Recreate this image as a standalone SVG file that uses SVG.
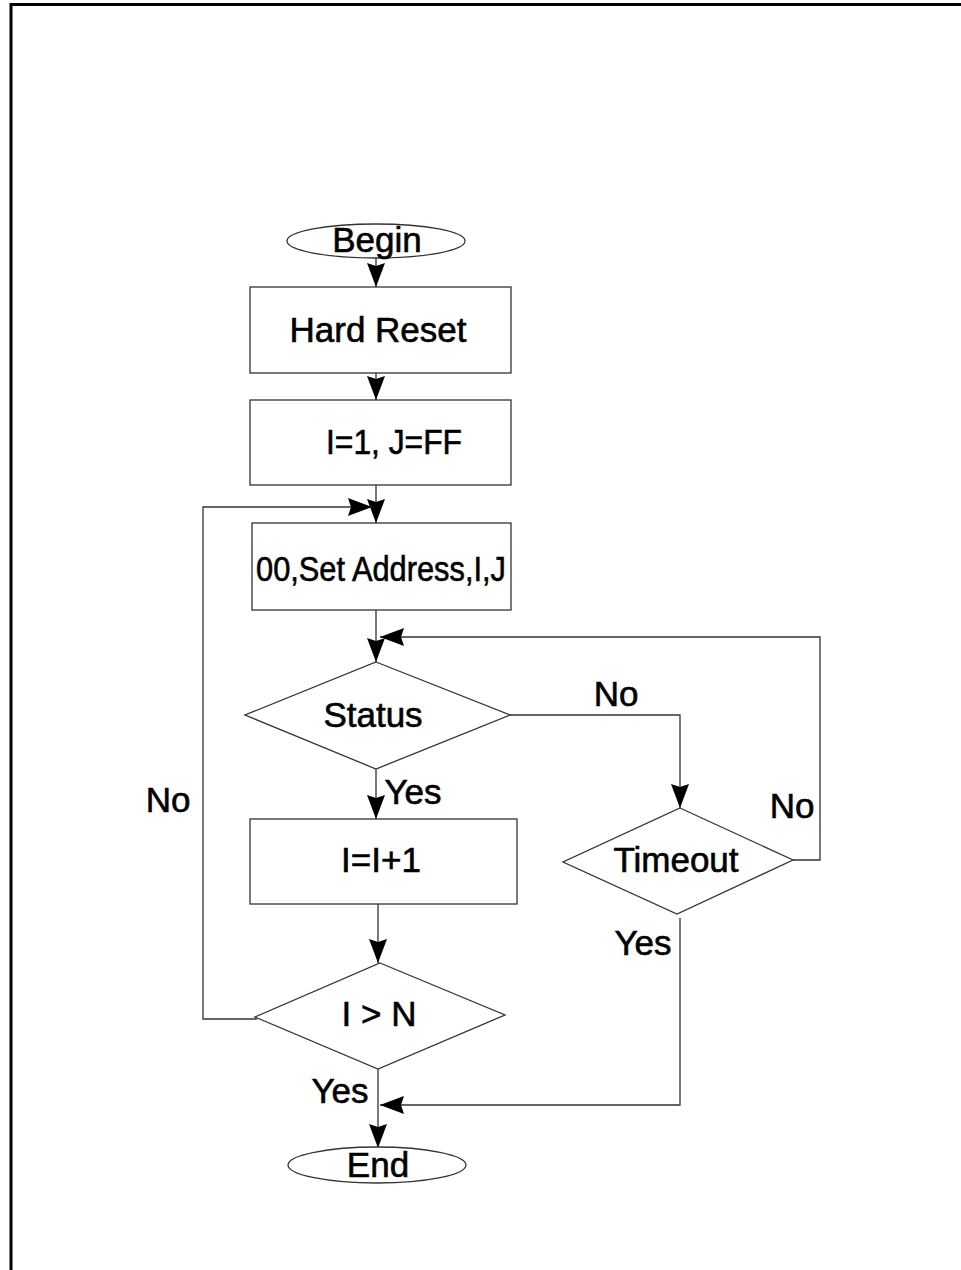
<svg xmlns="http://www.w3.org/2000/svg" width="961" height="1270" viewBox="0 0 961 1270">
<style>
.s{fill:#fff;stroke:#333;stroke-width:1.3}
.c{fill:none;stroke:#333;stroke-width:1.3}
text{font-family:"Liberation Sans",Arial,sans-serif;font-size:35px;fill:#000;stroke:#000;stroke-width:0.6}
.m{text-anchor:middle}
</style>
<defs>
<marker id="a" markerUnits="userSpaceOnUse" markerWidth="26" markerHeight="18" refX="24" refY="9" orient="auto">
<path d="M0,0 L24,9 L0,18 L3,9 z" fill="#000"/>
</marker>
</defs>
<rect width="961" height="1270" fill="#fff"/>
<path d="M11,1270 V4.5 H961" fill="none" stroke="#000" stroke-width="3"/>
<g id="connectors">
<path class="c" d="M376,258 V287" marker-end="url(#a)"/>
<path class="c" d="M376,373 V400" marker-end="url(#a)"/>
<path class="c" d="M376,485 V523" marker-end="url(#a)"/>
<path class="c" d="M257,1019 H203 V507 H372" marker-end="url(#a)"/>
<path class="c" d="M376,610 V662" marker-end="url(#a)"/>
<path class="c" d="M793,860 H820 V637 H380" marker-end="url(#a)"/>
<path class="c" d="M510,715 H680 V808" marker-end="url(#a)"/>
<path class="c" d="M376,769 V819" marker-end="url(#a)"/>
<path class="c" d="M378,904 V963" marker-end="url(#a)"/>
<path class="c" d="M680,918 V1105 H380" marker-end="url(#a)"/>
<path class="c" d="M378,1069 V1148" marker-end="url(#a)"/>
<text x="616" y="706" class="m">No</text>
<text x="413" y="804" class="m">Yes</text>
<text x="168" y="812" class="m">No</text>
<text x="792" y="818" class="m">No</text>
<text x="643" y="955" class="m">Yes</text>
<text x="340" y="1103" class="m">Yes</text>
</g>
<g id="begin">
<ellipse class="s" cx="376" cy="241" rx="89" ry="17"/>
<text x="377" y="252" class="m">Begin</text>
</g>
<g id="hard-reset">
<rect class="s" x="250" y="287" width="261" height="86"/>
<text x="378" y="342" class="m">Hard Reset</text>
</g>
<g id="init">
<rect class="s" x="250" y="400" width="261" height="85"/>
<text x="394" y="454" class="m" textLength="136" lengthAdjust="spacingAndGlyphs">I=1, J=FF</text>
</g>
<g id="set-address">
<rect class="s" x="252" y="523" width="259" height="87"/>
<text x="381" y="581" class="m" font-size="37" textLength="250" lengthAdjust="spacingAndGlyphs">00,Set Address,I,J</text>
</g>
<g id="status">
<polygon class="s" points="376,662 510,715 376,769 245,715"/>
<text x="373" y="727" class="m">Status</text>
</g>
<g id="increment">
<rect class="s" x="250" y="819" width="267" height="85"/>
<text x="381" y="872" class="m">I=I+1</text>
</g>
<g id="timeout">
<polygon class="s" points="680,808 793,860 677,914 563,862"/>
<text x="676" y="872" class="m">Timeout</text>
</g>
<g id="compare">
<polygon class="s" points="380,963 505,1015 378,1069 255,1017"/>
<text x="379" y="1026" class="m">I &gt; N</text>
</g>
<g id="end">
<ellipse class="s" cx="377" cy="1165" rx="89" ry="18"/>
<text x="378" y="1177" class="m">End</text>
</g>
</svg>
